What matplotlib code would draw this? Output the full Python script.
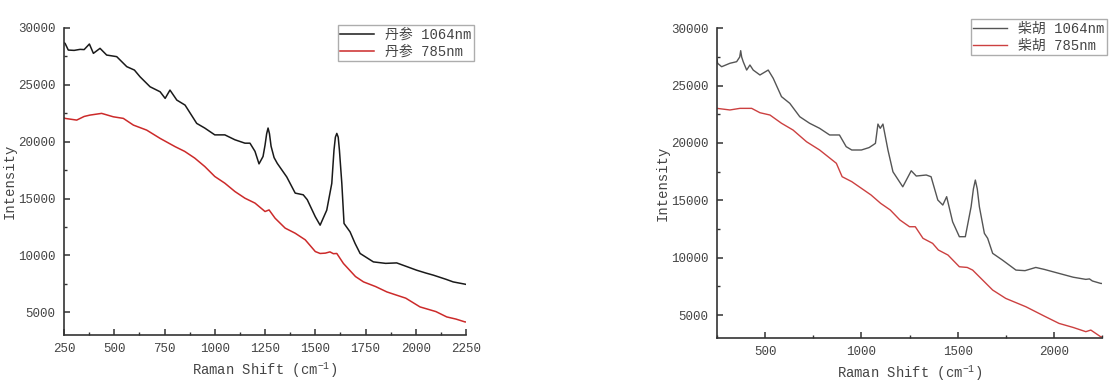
import matplotlib
matplotlib.use("Agg")
import matplotlib.pyplot as plt
from matplotlib.ticker import MultipleLocator

plt.rcParams['font.family'] = ['Liberation Mono', 'Noto Sans CJK SC', 'DejaVu Sans']
plt.rcParams['mathtext.default'] = 'regular'

# ---- Data: 丹参 (Salvia) ----
ds_1064_x = [250, 255, 271, 300, 330, 350, 376, 396, 429, 462, 512, 562, 600, 628, 678, 728, 753,
             777, 811, 852, 910, 950, 1000, 1050, 1100, 1150, 1175, 1200, 1220, 1240, 1250, 1258,
             1265, 1272, 1280, 1295, 1311, 1358, 1400, 1440, 1460, 1500, 1524, 1557, 1582, 1593,
             1600, 1607, 1614, 1620, 1632, 1643, 1673, 1698, 1723, 1789, 1850, 1905, 1950, 2004,
             2050, 2088, 2150, 2186, 2245, 2250]
ds_1064_y = [28700, 28650, 28060, 28030, 28120, 28100, 28590, 27770, 28210, 27620, 27480, 26600,
             26300, 25710, 24830, 24390, 23810, 24540, 23660, 23220, 21610, 21200, 20600, 20600,
             20170, 19870, 19870, 19150, 18050, 18700, 19700, 20700, 21200, 20700, 19600, 18600,
             18090, 16900, 15480, 15330, 14900, 13400, 12660, 13980, 16330, 19260, 20400, 20730,
             20400, 19260, 16330, 12810, 12070, 11050, 10170, 9430, 9300, 9340, 9050, 8700, 8450,
             8260, 7900, 7670, 7470, 7450]

ds_785_x = [250, 255, 313, 350, 379, 437, 495, 545, 595, 661, 728, 803, 850, 900, 950, 1000, 1050,
            1100, 1150, 1200, 1250, 1270, 1300, 1350, 1400, 1450, 1500, 1524, 1550, 1573, 1590,
            1607, 1640, 1700, 1740, 1800, 1856, 1900, 1950, 2021, 2100, 2154, 2200, 2245, 2250]
ds_785_y = [22100, 22050, 21900, 22220, 22340, 22490, 22190, 22050, 21460, 21020, 20290, 19560,
            19150, 18560, 17820, 16940, 16350, 15620, 15030, 14600, 13860, 14000, 13270, 12400,
            11950, 11370, 10340, 10170, 10200, 10310, 10150, 10170, 9290, 8140, 7670, 7260, 6790,
            6530, 6240, 5470, 5060, 4590, 4400, 4150, 4150]

# ---- Data: 柴胡 (Bupleurum) ----
ch_1064_x = [250, 253, 274, 317, 352, 368, 373, 378, 386, 404, 421, 438, 473, 516, 542, 585, 628,
             680, 731, 783, 835, 886, 921, 950, 1000, 1040, 1060, 1073, 1086, 1098, 1112, 1138,
             1164, 1215, 1259, 1285, 1337, 1362, 1397, 1423, 1443, 1474, 1509, 1540, 1570, 1582,
             1592, 1602, 1613, 1639, 1656, 1682, 1733, 1803, 1850, 1906, 1950, 2027, 2100, 2166,
             2185, 2200, 2243, 2250]
ch_1064_y = [27300, 26950, 26650, 26950, 27090, 27500, 28050, 27500, 27090, 26360, 26800, 26360,
             25930, 26360, 25640, 24040, 23460, 22290, 21720, 21280, 20700, 20700, 19680, 19390,
             19390, 19600, 19820, 19970, 21650, 21280, 21650, 19390, 17490, 16180, 17580, 17120,
             17210, 17060, 15030, 14590, 15320, 13130, 11830, 11830, 14440, 16000, 16770, 16000,
             14440, 12120, 11690, 10380, 9790, 8920, 8870, 9150, 8980, 8630, 8300, 8110, 8150,
             7970, 7760, 7750]

ch_785_x = [250, 317, 369, 430, 473, 525, 585, 645, 715, 783, 870, 900, 950, 1000, 1050, 1100,
            1150, 1200, 1250, 1280, 1320, 1370, 1400, 1450, 1509, 1550, 1578, 1682, 1750, 1855,
            1950, 2027, 2100, 2166, 2192, 2243, 2250]
ch_785_y = [23020, 22880, 23020, 23020, 22640, 22440, 21720, 21130, 20110, 19390, 18230, 17060,
            16630, 16050, 15470, 14740, 14160, 13290, 12700, 12700, 11690, 11250, 10670, 10230,
            9210, 9150, 8920, 7180, 6450, 5720, 4910, 4270, 3920, 3550, 3690, 3110, 3100]

labels_left = ['丹参 1064nm', '丹参 785nm']
labels_right = ['柴胡 1064nm', '柴胡 785nm']

fig = plt.figure(figsize=(11.12, 3.92), dpi=100)
ax1 = fig.add_axes([0.0576, 0.1454, 0.3615, 0.7832])
ax2 = fig.add_axes([0.6448, 0.1378, 0.3462, 0.7900])


def style(ax, xmaj, xmin):
    ax.set_xlim(250, 2250)
    ax.set_ylim(3000, 30000)
    ax.xaxis.set_major_locator(MultipleLocator(xmaj))
    ax.xaxis.set_minor_locator(MultipleLocator(xmin))
    ax.yaxis.set_minor_locator(MultipleLocator(2500))
    ax.set_yticks([5000, 10000, 15000, 20000, 25000, 30000])
    for s in ['top', 'right']:
        ax.spines[s].set_visible(False)
    for s in ['left', 'bottom']:
        ax.spines[s].set_linewidth(1.2)
        ax.spines[s].set_color('#333333')
    ax.tick_params(which='major', direction='in', length=4, width=1.1, color='#333333',
                   labelsize=9, labelcolor='#444444', pad=6)
    ax.tick_params(which='minor', direction='in', length=2.5, width=1.0, color='#333333')
    ax.set_xlabel('Raman Shift (cm$^{-1}$)', fontsize=10, color='#444444', labelpad=4)
    ax.set_ylabel('Intensity', fontsize=10, color='#444444', labelpad=1)


ax1.plot(ds_1064_x, ds_1064_y, color='#1a1a1a', lw=1.1, label=labels_left[0])
ax1.plot(ds_785_x, ds_785_y, color='#cc2a2a', lw=1.1, label=labels_left[1])
style(ax1, 250, 125)

ax2.plot(ch_1064_x, ch_1064_y, color='#555555', lw=1.0, label=labels_right[0])
ax2.plot(ch_785_x, ch_785_y, color='#cc4040', lw=1.0, label=labels_right[1])
style(ax2, 500, 250)

for ax, anchor in [(ax1, (0.4263, 0.936)), (ax2, (0.9955, 0.9515))]:
    leg = ax.legend(loc='upper right', bbox_to_anchor=anchor, bbox_transform=fig.transFigure,
                    fontsize=10, frameon=True, fancybox=False, handlelength=2.4,
                    borderpad=0.2, labelspacing=0.2, handletextpad=0.8, borderaxespad=0)
    leg.get_frame().set_edgecolor('#999999')
    leg.get_frame().set_linewidth(1.0)
    for t in leg.get_texts():
        t.set_color('#444444')

fig.savefig('out.png', dpi=100)
